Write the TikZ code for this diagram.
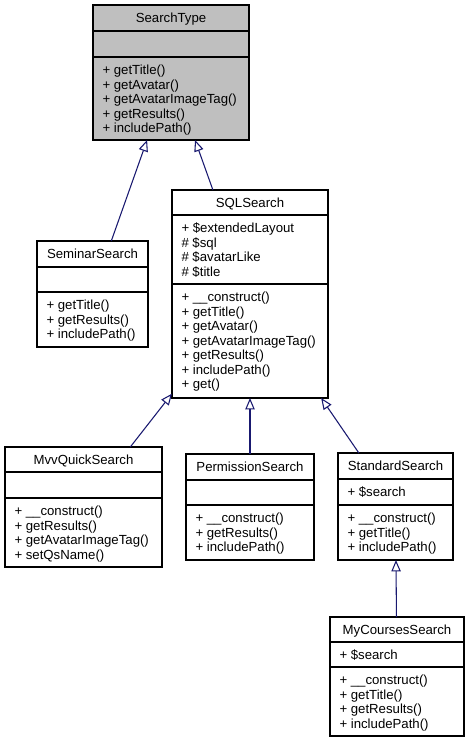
\documentclass[tikz,border=0pt]{standalone}
\usepackage{fontspec}
\setmainfont{Liberation Sans}
\usetikzlibrary{arrows.meta}
\definecolor{edgeblue}{HTML}{191970}
\definecolor{nodegray}{HTML}{BFBFBF}
\begin{document}
\begin{tikzpicture}[x=0.75pt,y=-0.75pt,
  cls/.style={draw=black, line width=0.8pt, fill=white, inner sep=0pt, outer sep=0pt},
  txt/.style={inner sep=0pt, outer sep=0pt, font=\fontsize{9.9}{11}\selectfont, anchor=base west},
  ttl/.style={inner sep=0pt, outer sep=0pt, font=\fontsize{9.9}{11}\selectfont, anchor=base},
  sepline/.style={draw=black, line width=0.8pt},
  inh/.style={draw=edgeblue, line width=0.8pt, -{Triangle[open, length=8.5pt, width=7pt, line width=0.8pt]}}]
\useasboundingbox (0,0) rectangle (466,743);
\fill[white] (0,0) rectangle (466,743);

% SearchType
\node[cls, fill=nodegray, minimum width=156*0.75pt, minimum height=135*0.75pt] (st) at (171,72.5) {};
\draw[sepline] (93,31) -- (249,31);
\draw[sepline] (93,57) -- (249,57);
\node[ttl] (st-t) at (171,22.5) {SearchType};
\node[txt] (st-m1) at (102.5,74.5) {+ getTitle()};
\node[txt] (st-m2) at (102.5,89) {+ getAvatar()};
\node[txt] (st-m3) at (102.5,103.5) {+ getAvatarImageTag()};
\node[txt] (st-m4) at (102.5,118) {+ getResults()};
\node[txt] (st-m5) at (102.5,132.5) {+ includePath()};

% SeminarSearch
\node[cls, minimum width=111*0.75pt, minimum height=106*0.75pt] (sem) at (92.5,294) {};
\draw[sepline] (37,267) -- (148,267);
\draw[sepline] (37,292) -- (148,292);
\node[ttl] (sem-t) at (92.5,258.5) {SeminarSearch};
\node[txt] (sem-m1) at (46.5,309.5) {+ getTitle()};
\node[txt] (sem-m2) at (46.5,324) {+ getResults()};
\node[txt] (sem-m3) at (46.5,338.5) {+ includePath()};

% SQLSearch
\node[cls, minimum width=156*0.75pt, minimum height=208*0.75pt] (sql) at (250,294) {};
\draw[sepline] (172,215) -- (328,215);
\draw[sepline] (172,284) -- (328,284);
\node[ttl] (sql-t) at (250,207.5) {SQLSearch};
\node[txt] (sql-a1) at (181.5,232.5) {+ \$extendedLayout};
\node[txt] (sql-a2) at (181.5,247) {\# \$sql};
\node[txt] (sql-a3) at (181.5,261.5) {\# \$avatarLike};
\node[txt] (sql-a4) at (181.5,276) {\# \$title};
\node[txt] (sql-m1) at (181.5,301.5) {+ \_\_construct()};
\node[txt] (sql-m2) at (181.5,316) {+ getTitle()};
\node[txt] (sql-m3) at (181.5,330.5) {+ getAvatar()};
\node[txt] (sql-m4) at (181.5,345) {+ getAvatarImageTag()};
\node[txt] (sql-m5) at (181.5,359.5) {+ getResults()};
\node[txt] (sql-m6) at (181.5,374) {+ includePath()};
\node[txt] (sql-m7) at (181.5,388.5) {+ get()};

% MvvQuickSearch
\node[cls, minimum width=157*0.75pt, minimum height=120*0.75pt] (mvv) at (83.5,507) {};
\draw[sepline] (5,472) -- (162,472);
\draw[sepline] (5,498) -- (162,498);
\node[ttl] (mvv-t) at (83.5,464.5) {MvvQuickSearch};
\node[txt] (mvv-m1) at (14.5,515.5) {+ \_\_construct()};
\node[txt] (mvv-m2) at (14.5,530) {+ getResults()};
\node[txt] (mvv-m3) at (14.5,544.5) {+ getAvatarImageTag()};
\node[txt] (mvv-m4) at (14.5,559) {+ setQsName()};

% PermissionSearch
\node[cls, minimum width=128*0.75pt, minimum height=106*0.75pt] (perm) at (250,507) {};
\draw[sepline] (186,480) -- (314,480);
\draw[sepline] (186,505) -- (314,505);
\node[ttl] (perm-t) at (250,471.5) {PermissionSearch};
\node[txt] (perm-m1) at (195.5,522.5) {+ \_\_construct()};
\node[txt] (perm-m2) at (195.5,537) {+ getResults()};
\node[txt] (perm-m3) at (195.5,551.5) {+ includePath()};

% StandardSearch
\node[cls, minimum width=115*0.75pt, minimum height=107*0.75pt] (std) at (395.5,506.5) {};
\draw[sepline] (338,479) -- (453,479);
\draw[sepline] (338,505) -- (453,505);
\node[ttl] (std-t) at (395.5,470.5) {StandardSearch};
\node[txt] (std-a1) at (347.5,496.5) {+ \$search};
\node[txt] (std-m1) at (347.5,522.5) {+ \_\_construct()};
\node[txt] (std-m2) at (347.5,537) {+ getTitle()};
\node[txt] (std-m3) at (347.5,551.5) {+ includePath()};

% MyCoursesSearch
\node[cls, minimum width=134*0.75pt, minimum height=119*0.75pt] (myc) at (397,676.5) {};
\draw[sepline] (330,642) -- (464,642);
\draw[sepline] (330,667) -- (464,667);
\node[ttl] (myc-t) at (397,634.5) {MyCoursesSearch};
\node[txt] (myc-a1) at (339.5,659.5) {+ \$search};
\node[txt] (myc-m1) at (339.5,684.5) {+ \_\_construct()};
\node[txt] (myc-m2) at (339.5,699) {+ getTitle()};
\node[txt] (myc-m3) at (339.5,713.5) {+ getResults()};
\node[txt] (myc-m4) at (339.5,728) {+ includePath()};

% inheritance
\draw[inh] (sem) -- (st);
\draw[inh] (sql) -- (st);
\draw[inh] (mvv) -- (sql);
\draw[inh] (perm) -- (sql);
\draw[inh] (std) -- (sql);
\draw[inh] (myc) -- (std);
\end{tikzpicture}
\end{document}
